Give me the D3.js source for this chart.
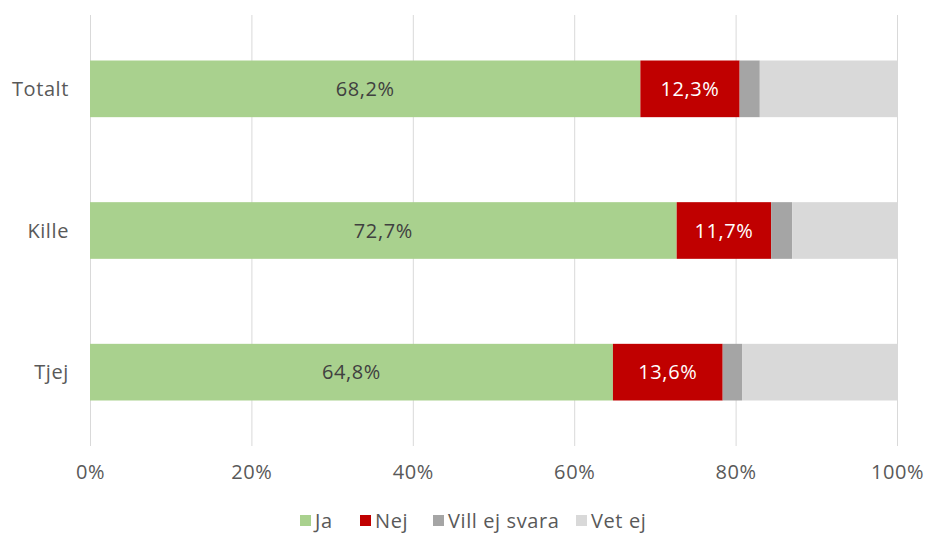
<!DOCTYPE html>
<html>
<head>
<meta charset="utf-8">
<script src="https://cdn.jsdelivr.net/npm/d3@7"></script>
<style>
  body { margin: 0; background: #fff; }
  svg text { font-family: "Open Sans", Lato, sans-serif; letter-spacing: 0.6px; }
</style>
</head>
<body>
<svg id="chart" width="927" height="536"></svg>
<script>
var categories = ["Totalt", "Kille", "Tjej"];
var seriesNames = ["Ja", "Nej", "Vill ej svara", "Vet ej"];
var ja = [68.2, 72.7, 64.8];
var nej = [12.3, 11.7, 13.6];
var villEj = [2.5, 2.6, 2.4];
var vetEj = [17.0, 13.0, 19.2];
var xTicks = [0, 20, 40, 60, 80, 100];
var colors = ["#a9d18e", "#c00000", "#a5a5a5", "#d9d9d9"];

var rows = categories.map(function(c, i) {
  return { cat: c, "Ja": ja[i], "Nej": nej[i], "Vill ej svara": villEj[i], "Vet ej": vetEj[i] };
});

var fontSize = 20;
var svg = d3.select("#chart");
var x = d3.scaleLinear().domain([0, 100]).range([90, 897]);
var y = d3.scaleBand().domain(categories).range([18, 443]).paddingInner(0.6).paddingOuter(0.3);
var color = d3.scaleOrdinal().domain(seriesNames).range(colors);

// gridlines
svg.append("g").selectAll("line")
  .data(xTicks).enter().append("line")
  .attr("x1", function(d) { return x(d) + 0.5; })
  .attr("x2", function(d) { return x(d) + 0.5; })
  .attr("y1", 15).attr("y2", 446)
  .attr("stroke", "#d9d9d9").attr("stroke-width", 1);

var stacked = d3.stack().keys(seriesNames)(rows);

var layers = svg.append("g").selectAll("g")
  .data(stacked).enter().append("g")
  .attr("fill", function(d) { return color(d.key); });

layers.selectAll("rect")
  .data(function(d) { return d; }).enter().append("rect")
  .attr("x", function(d) { return x(d[0]); })
  .attr("width", function(d) { return x(d[1]) - x(d[0]); })
  .attr("y", function(d) { return y(d.data.cat); })
  .attr("height", y.bandwidth());

// value labels for Ja and Nej
stacked.slice(0, 2).forEach(function(layer, li) {
  svg.append("g").selectAll("text")
    .data(layer).enter().append("text")
    .attr("x", function(d) { return (x(d[0]) + x(d[1])) / 2; })
    .attr("y", function(d) { return y(d.data.cat) + y.bandwidth() / 2; })
    .attr("dy", "0.35em")
    .attr("text-anchor", "middle")
    .attr("font-size", fontSize)
    .attr("fill", li === 0 ? "#404040" : "#ffffff")
    .text(function(d) { return (d[1] - d[0]).toFixed(1).replace(".", ",") + "%"; });
});

// category labels
svg.append("g").selectAll("text")
  .data(categories).enter().append("text")
  .attr("x", 69)
  .attr("y", function(d) { return y(d) + y.bandwidth() / 2; })
  .attr("dy", "0.35em")
  .attr("text-anchor", "end")
  .attr("font-size", fontSize)
  .attr("fill", "#595959")
  .text(function(d) { return d; });

// x axis
var xAxis = svg.append("g")
  .attr("transform", "translate(0,446)")
  .call(d3.axisBottom(x).tickValues(xTicks).tickSize(0).tickPadding(19)
    .tickFormat(function(d) { return d + "%"; }));
xAxis.select(".domain").remove();
xAxis.selectAll("text").attr("font-size", fontSize).attr("fill", "#595959")
  .style("font-family", "'Open Sans', Lato, sans-serif");

// legend
var legendX = [300, 360, 433, 576];
var legend = svg.append("g").selectAll("g")
  .data(seriesNames).enter().append("g")
  .attr("transform", function(d, i) { return "translate(" + legendX[i] + ",520)"; });
legend.append("rect")
  .attr("x", 0).attr("y", -5).attr("width", 11).attr("height", 11)
  .attr("fill", function(d) { return color(d); });
legend.append("text")
  .attr("x", 15).attr("dy", "0.38em")
  .attr("font-size", fontSize).attr("fill", "#595959")
  .text(function(d) { return d; });
</script>
</body>
</html>
